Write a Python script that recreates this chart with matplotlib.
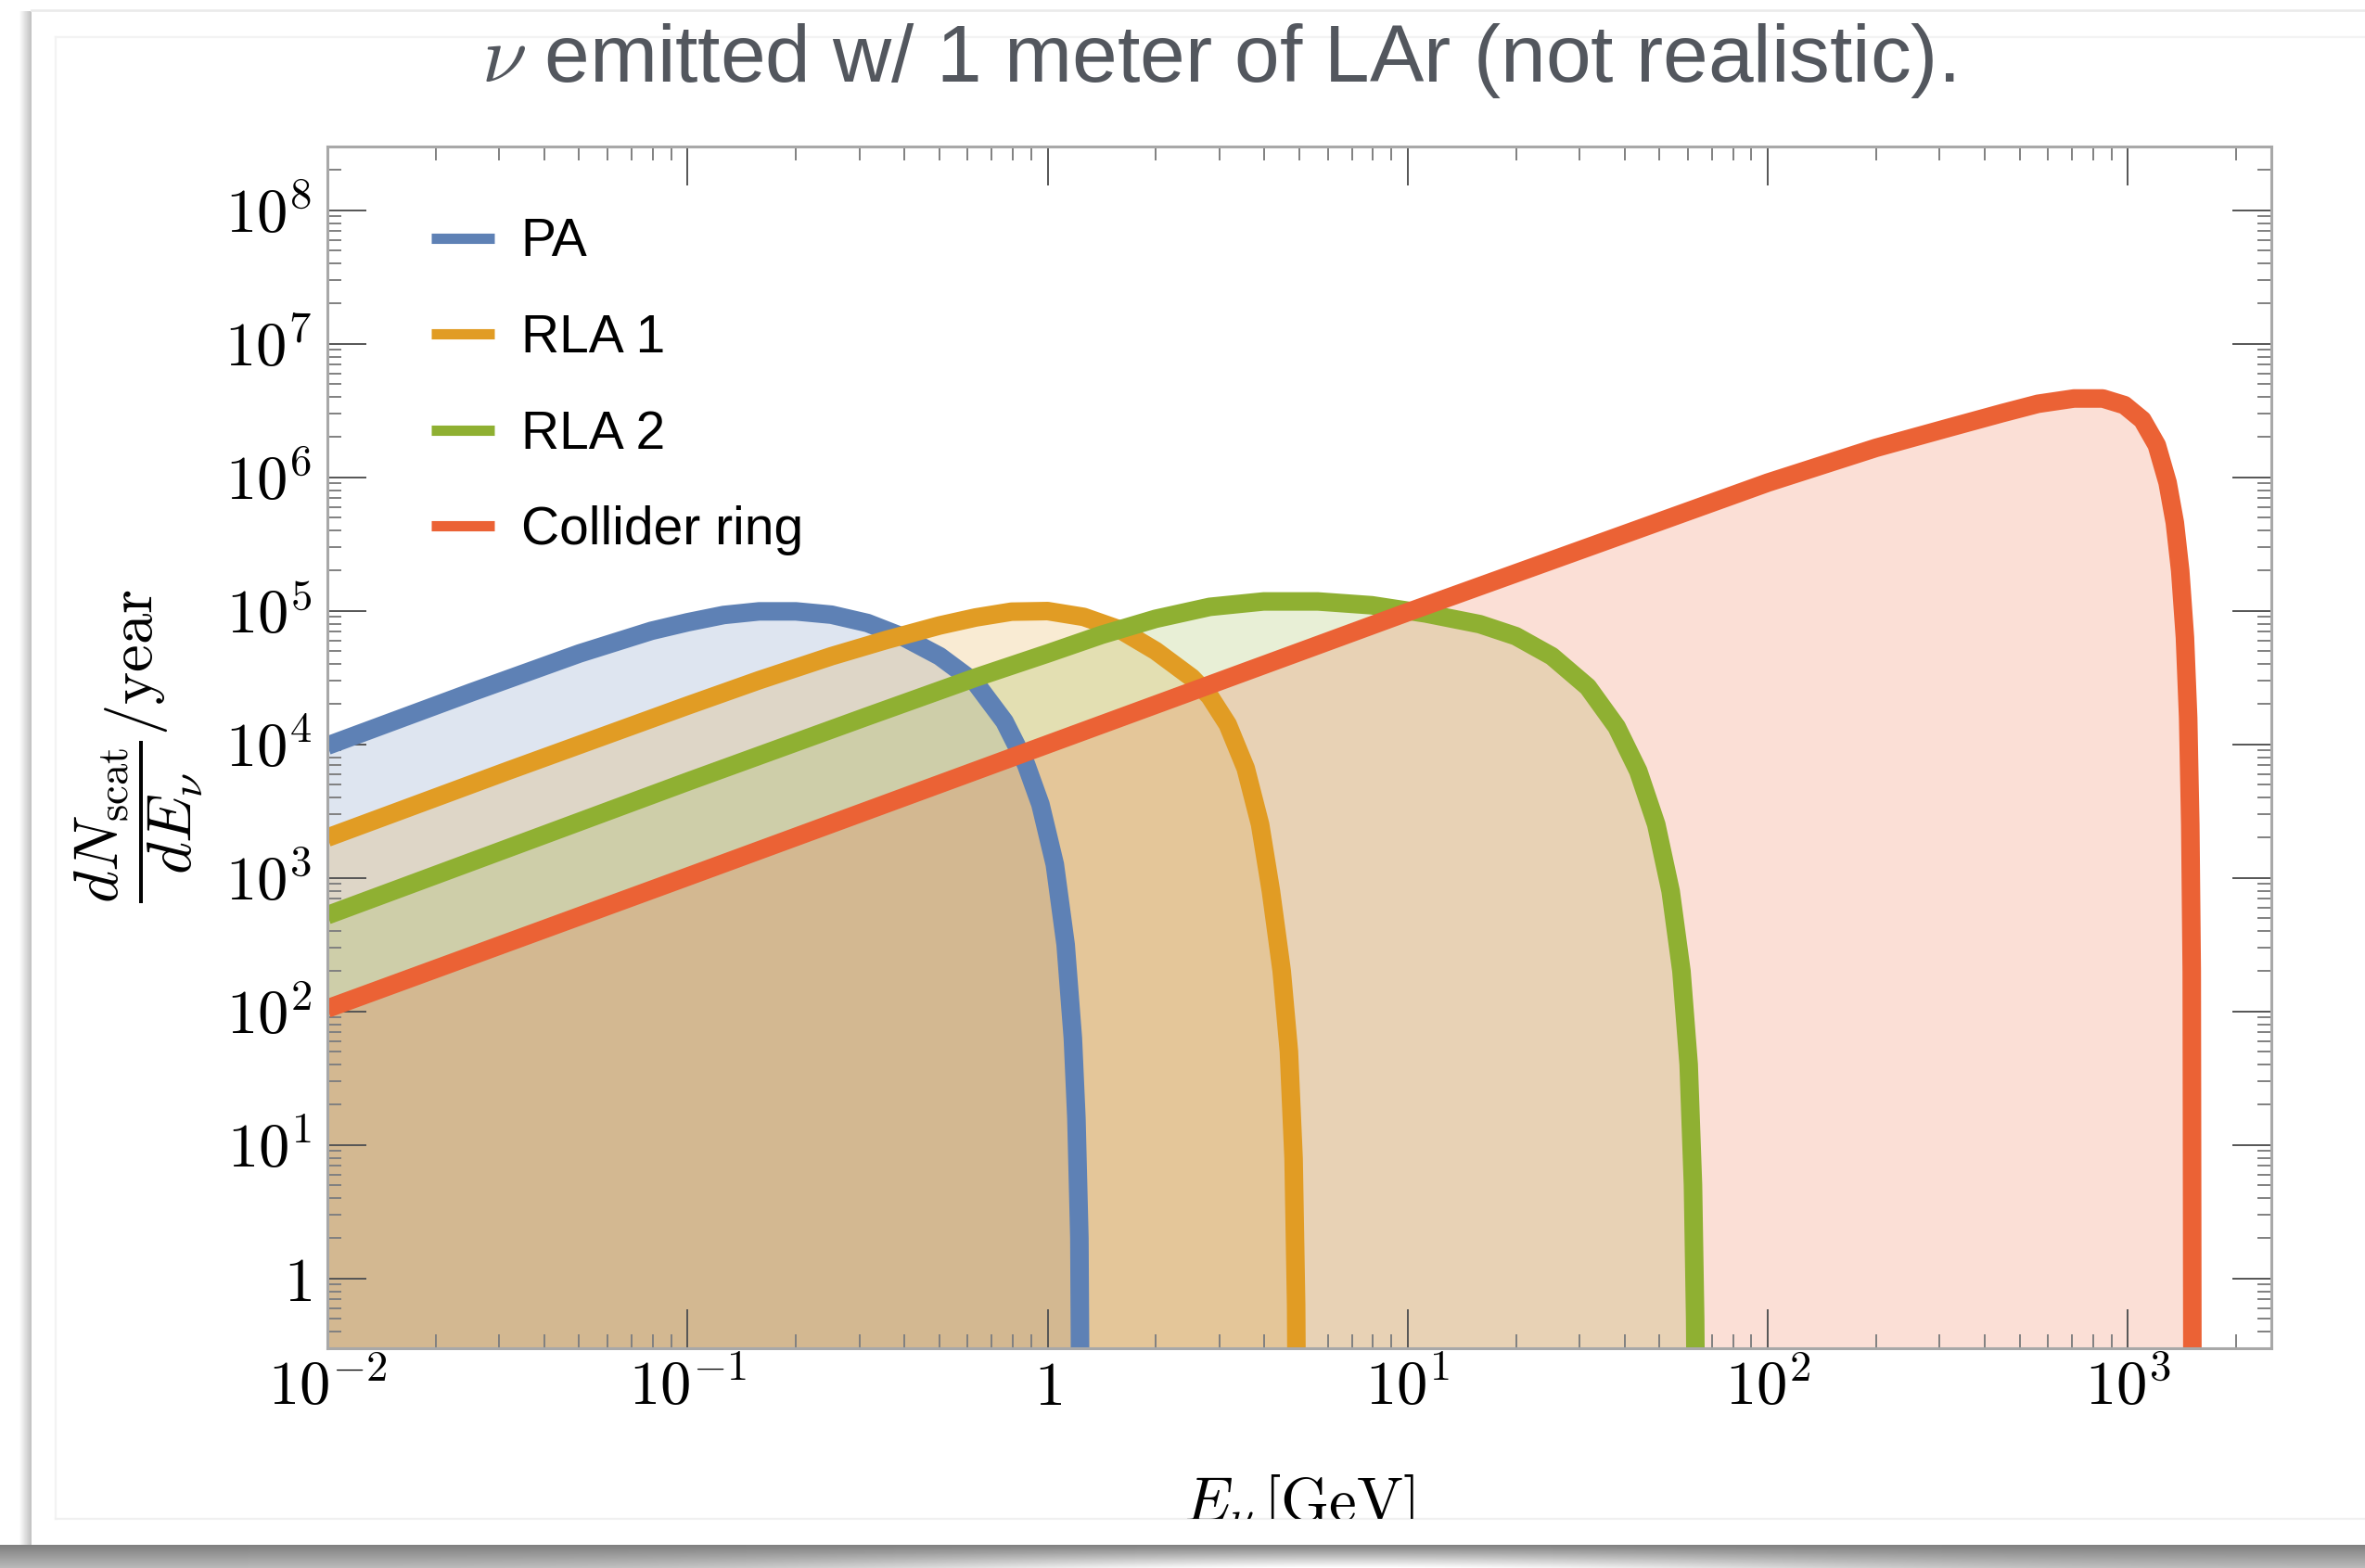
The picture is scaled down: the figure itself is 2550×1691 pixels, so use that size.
import numpy as np
import matplotlib
matplotlib.use('Agg')
import matplotlib.pyplot as plt
from matplotlib.lines import Line2D
from matplotlib.ticker import LogLocator, NullFormatter
from matplotlib.transforms import Bbox, TransformedBbox

plt.rcParams['mathtext.fontset'] = 'cm'
plt.rcParams['font.family'] = ['Liberation Sans', 'DejaVu Sans']

# values: E_nu [GeV] and dN/dE per year
pa_E = [0.01, 0.0251, 0.0501, 0.0794, 0.1, 0.126, 0.158, 0.2, 0.251, 0.316, 0.398,
        0.501, 0.631, 0.759, 0.871, 0.955, 1.047, 1.122, 1.175, 1.202, 1.225, 1.233]
pa_N = [9770, 24500, 47900, 70800, 82000, 93000, 99000, 99000, 93500, 81000, 63500,
        45700, 28800, 14800, 7080, 3550, 1260, 316, 63, 15.8, 2.0, 0.1]

rla1_E = [0.01, 0.0316, 0.1, 0.158, 0.251, 0.355, 0.501, 0.631, 0.794, 1.0, 1.259,
          1.585, 1.995, 2.512, 2.818, 3.162, 3.548, 3.89, 4.169, 4.467, 4.677,
          4.819, 4.898, 4.92]
rla1_N = [2000, 6310, 19500, 30200, 45700, 60300, 77600, 89100, 98500, 99500, 90000,
          72400, 50100, 31600, 22900, 14100, 6610, 2510, 794, 200, 50,
          7.9, 0.63, 0.1]

rla2_E = [0.01, 0.1, 0.316, 0.631, 1.0, 1.413, 1.995, 2.818, 3.981, 5.623, 7.943,
          11.22, 15.85, 19.95, 25.12, 31.62, 38.02, 43.65, 48.98, 53.70, 57.54,
          60.26, 61.94, 62.81, 63.1]
rla2_N = [525, 5250, 16200, 31600, 47900, 66100, 87100, 107000, 117500, 117500, 110000,
          95500, 79400, 64600, 45700, 26900, 13500, 6310, 2510, 794, 200,
          40, 5.0, 0.5, 0.1]

ring_E = [0.01, 0.1, 1, 10, 100, 199.5, 316.2, 446.7, 562.3, 707.9, 851.1,
          977.2, 1096, 1202, 1288, 1349, 1396, 1439, 1469, 1489, 1503, 1510]
ring_N = [105, 1020, 10000, 97700, 912000, 1.66e6, 2.34e6, 3.02e6, 3.55e6, 3.89e6, 3.89e6,
          3.47e6, 2.69e6, 1.74e6, 9.12e5, 4.57e5, 2.0e5, 6.31e4, 1.58e4, 2510, 200, 0.1]

names = ['PA', 'RLA 1', 'RLA 2', 'Collider ring']
colors = ['#5e81b5', '#e19c24', '#8fb032', '#eb6235']
series = [(pa_E, pa_N), (rla1_E, rla1_N), (rla2_E, rla2_N), (ring_E, ring_N)]

xticks = [0.01, 0.1, 1, 10, 100, 1000]
xlabels = [r'$10^{-2}$', r'$10^{-1}$', r'$1$', r'$10^{1}$', r'$10^{2}$', r'$10^{3}$']
yticks = [1, 10, 100, 1e3, 1e4, 1e5, 1e6, 1e7, 1e8]
ylabels = [r'$1$'] + [r'$10^{%d}$' % k for k in range(1, 9)]

fig = plt.figure(figsize=(12.75, 8.455), dpi=200)

# slide card with its shadow
bg = fig.add_axes([0, 0, 1, 1], zorder=-10)
grad = np.linspace(1.0, 0.76, 14)[None, :]
bg.imshow(grad, cmap='gray', vmin=0, vmax=1, extent=(20, 34, 1666, 12), aspect='auto')
xx = np.linspace(0, 2550, 600)
tt = np.linspace(0, 1, 30)[:, None]
w = np.exp(-((xx - 1450) / 520) ** 2)[None, :]
dark = 0.5 * (1 - tt * (0.45 + 0.55 * w))
bg.imshow(1 - dark, cmap='gray', vmin=0, vmax=1, extent=(0, 2550, 1691, 1666),
          aspect='auto', interpolation='bilinear')
bg.plot([34, 2550], [11, 11], color='#ebebeb', lw=1)
bg.plot([60, 60], [40, 1638], color='#f3f3f3', lw=0.8)
bg.plot([60, 2550], [40, 40], color='#f3f3f3', lw=0.8)
bg.plot([60, 2550], [1638, 1638], color='#f0f0f0', lw=0.8)
bg.set_xlim(0, 2550)
bg.set_ylim(1691, 0)
bg.axis('off')

ax = fig.add_axes([353 / 2550, 1 - 1454 / 1691, (2449 - 353) / 2550, (1454 - 158) / 1691])
ax.set_xscale('log')
ax.set_yscale('log')

for (E, N), c in zip(series, colors):
    ax.fill_between(E, N, 1e-3, color=c, alpha=0.2, lw=0)
for (E, N), c in zip(series, colors):
    ax.plot(E, N, color=c, lw=7.2, solid_joinstyle='round', solid_capstyle='butt')

ax.set_xlim(0.01, 2500)
ax.set_ylim(0.3, 3e8)

ax.set_xticks(xticks, xlabels)
ax.set_yticks(yticks, ylabels)
ax.xaxis.set_minor_locator(LogLocator(base=10, subs=np.arange(2, 10), numticks=60))
ax.yaxis.set_minor_locator(LogLocator(base=10, subs=np.arange(2, 10), numticks=60))
ax.xaxis.set_minor_formatter(NullFormatter())
ax.yaxis.set_minor_formatter(NullFormatter())
ax.tick_params(which='both', direction='in', top=True, right=True, labelsize=24)
ax.tick_params(which='major', length=15, width=0.7, color='#555555')
ax.tick_params(which='minor', length=5.4, width=0.7, color='#808080')
ax.tick_params(axis='y', pad=6)
ax.tick_params(axis='x', pad=4.7)
for s in ax.spines.values():
    s.set_color('#a8a8a8')
    s.set_linewidth(1.1)

handles = [Line2D([], [], color=c, lw=4, solid_capstyle='butt') for c in colors]
ax.legend(handles, names, loc='upper left', bbox_to_anchor=(0.0534, 0.941), frameon=False,
          fontsize=20.5, handlelength=1.2, handletextpad=0.5, labelspacing=0.87,
          borderpad=0, borderaxespad=0)

fig.text(1313 / 2550, 1 - 88 / 1691, r'$\nu$ emitted w/ 1 meter of LAr (not realistic).',
         ha='center', va='baseline', fontsize=31.5, color='#53575e')

fig.text(150 / 2550, 1 - 805 / 1691, r'$\dfrac{dN_{\mathrm{scat}}}{dE_{\nu}}/\mathrm{year}$',
         rotation=90, ha='center', va='center', fontsize=24)

xl = fig.text(1401 / 2550, 1 - 1640 / 1691, r'$E_{\nu}\,[\mathrm{GeV}]$',
              ha='center', va='baseline', fontsize=24)
xl.set_clip_box(TransformedBbox(Bbox([[0, 1 - 1638 / 1691], [1, 1]]), fig.transFigure))
xl.set_clip_on(True)

fig.savefig('out.png', dpi=200)
